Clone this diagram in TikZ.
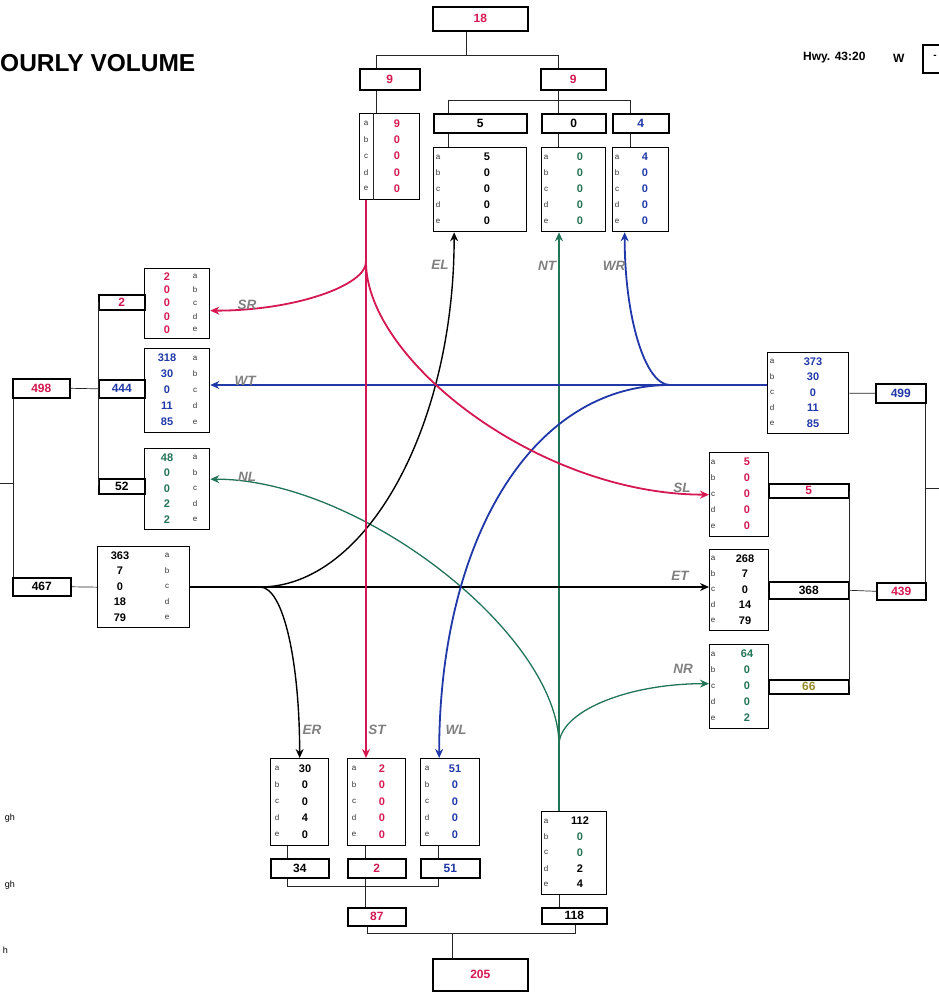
\documentclass[tikz,border=0pt]{standalone}
\usepackage{fontspec}
\setmainfont{Liberation Sans}
\usepackage{xcolor}
\usepackage{tikz}
\usetikzlibrary{arrows.meta}

\definecolor{cred}{RGB}{214,24,82}
\definecolor{cblue}{RGB}{32,56,168}
\definecolor{cgreen}{RGB}{34,116,86}
\definecolor{colive}{RGB}{150,140,40}

\begin{document}
\begin{tikzpicture}[
    x=1pt, y=-1pt,
    databox/.style={rectangle, draw=black, line width=1.3pt, inner sep=0pt, anchor=north west},
    sumbox/.style={rectangle, draw=black, line width=1.6pt, inner sep=0pt, anchor=north west, font=\bfseries\fontsize{12}{12}\selectfont},
    valtxt/.style={font=\bfseries\fontsize{11}{11}\selectfont, inner sep=0pt},
    lettxt/.style={font=\fontsize{8}{8}\selectfont, text=black!80, inner sep=0pt},
    mvlabel/.style={font=\bfseries\itshape\fontsize{13.5}{13.5}\selectfont, text=black!50, inner sep=0pt},
    conn/.style={draw=black!85, line width=0.7pt},
    mvred/.style={draw=cred, line width=1.8pt, -{Stealth[length=9pt,width=8pt]}},
    mvblue/.style={draw=cblue, line width=1.8pt, -{Stealth[length=9pt,width=8pt]}},
    mvblack/.style={draw=black, line width=1.4pt, -{Stealth[length=9pt,width=8pt]}},
    mvgreen/.style={draw=cgreen, line width=1.3pt, -{Stealth[length=9pt,width=8pt]}}
]
    \useasboundingbox (0,0) rectangle (939,993);
    \clip (0,0) rectangle (939,993);
    \fill[white] (0,0) rectangle (939,993);

    % heading
    \node[anchor=west, inner sep=0pt, font=\bfseries\fontsize{24.5}{24.5}\selectfont] (title) at (0,63) {OURLY VOLUME};
    \node[anchor=west, inner sep=0pt, font=\bfseries\fontsize{12}{12}\selectfont] (hwy) at (803,58) {Hwy. 43:20};
    \node[anchor=west, inner sep=0pt, font=\bfseries\fontsize{12}{12}\selectfont] (dir) at (893,58) {W};
    \node[sumbox, minimum width=30pt, minimum height=28pt] (dirbox) at (922,44) {};
    \node[inner sep=0pt, font=\bfseries\fontsize{10}{10}\selectfont] (dirmark) at (935,57) {-};

    % cut-off legend
    \node[anchor=east, inner sep=0pt, font=\fontsize{9}{9}\selectfont] (leg1) at (15,818) {gh};
    \node[anchor=east, inner sep=0pt, font=\fontsize{9}{9}\selectfont] (leg2) at (15,885) {gh};
    \node[anchor=east, inner sep=0pt, font=\fontsize{9}{9}\selectfont] (leg3) at (8,950) {h};

    % count boxes: name/left/top/width/height/letter x/value x/colour/values
    \foreach \nm/\lx/\ty/\w/\h/\lp/\vp/\col/\vals in {
        nIn/359/113/60/86/7/38/cred/{9,0,0,0,0},
        nEL/433/147/93/84/5/54/black/{5,0,0,0,0},
        nNT/541/147/64/84/5/39/cgreen/{0,0,0,0,0},
        nWR/612/147/56/84/5/33/cblue/{4,0,0,0,0},
        wSR/144/268/65/70/51/23/cred/{2,0,0,0,0},
        wWT/144/348/65/84/51/23/cblue/{318,30,0,11,85},
        wNL/144/448/65/81/51/23/cgreen/{48,0,0,2,2},
        wIn/97/546/92/81/70/23/black/{363,7,0,18,79},
        eIn/767/352/81/81/5/46/cblue/{373,30,0,11,85},
        eSL/709/452/59/84/4/38/cred/{5,0,0,0,0},
        eET/709/549/59/81/4/36/black/{268,7,0,14,79},
        eNR/709/644/59/84/4/38/cgreen/{64,0,0,0,2},
        sER/270/758/58/87/7/35/black/{30,0,0,4,0},
        sST/347/758/58/87/7/35/cred/{2,0,0,0,0},
        sWL/420/758/59/87/7/35/cblue/{51,0,0,0,0},
        sIn/541/811/65/83/5/39/black/{112,\color{cgreen}0,\color{cgreen}0,2,4}} {
        \node[databox, minimum width=\w pt, minimum height=\h pt] (\nm) at (\lx,\ty) {};
        \foreach \l [count=\i] in {a,b,c,d,e}
            \node[lettxt] (\nm l\i) at ({\lx+\lp}, {\ty+\h*(0.12+0.19*(\i-1))}) {\l};
        \foreach \v [count=\i] in \vals
            \node[valtxt, text=\col] (\nm v\i) at ({\lx+\vp}, {\ty+\h*(0.12+0.19*(\i-1))}) {\v};
    }
    \draw[conn] ([xshift=14pt]nIn.north west) -- ([xshift=14pt]nIn.south west);

    % total boxes: name/left/top/width/height/colour/text
    \foreach \nm/\lx/\ty/\w/\h/\col/\txt in {
        totN/432/6/95/24/cred/18, inNsum/359/68/60/21/cred/9, outNsum/540/68/65/21/cred/9,
        elSum/433/113/93/19/black/5, ntSum/541/113/64/19/black/0, wrSum/612/113/56/19/cblue/4,
        srSum/98/294/46/15/cred/2, wtSum/98/379/46/18/cblue/444, nlSum/98/478/46/15/black/52,
        outWsum/12/378/57/19/cred/498, inWsum/12/577/58/18/black/467,
        inEsum/875/383/50/19/cblue/499, outEsum/876/582/49/17/cred/439,
        slSum/768/483/80/14/cred/5, etSum/768/581/80/17/black/368, nrSum/768/679/80/14/colive/66,
        erSum/270/858/58/19/black/34, stSum/347/858/58/19/cred/2, wlSum/420/858/59/19/cblue/51,
        outSsum/347/907/58/18/cred/87, inSsum/541/907/65/16/black/118, totS/432/958/95/32/cred/205} {
        \node[sumbox, minimum width=\w pt, minimum height=\h pt, text=\col] (\nm) at (\lx,\ty) {\txt};
    }

    % tree lines, north
    \coordinate (nbM) at (466,55);
    \coordinate (nbL) at (376,55);
    \coordinate (nbR) at (558,55);
    \draw[conn] (totN.south -| nbM) -- (nbM);
    \draw[conn] (inNsum.north -| nbL) -- (nbL) -- (nbR) -- (outNsum.north -| nbR);
    \draw[conn] (inNsum.south -| nbL) -- (nIn.north -| nbL);
    \coordinate (ab1) at (448,100);
    \coordinate (ab2) at (558,100);
    \coordinate (ab3) at (630,100);
    \draw[conn] (outNsum.south -| ab2) -- (ntSum.north -| ab2);
    \draw[conn] (elSum.north -| ab1) -- (ab1) -- (ab3) -- (wrSum.north -| ab3);
    \draw[conn] (elSum.south -| ab1) -- (nEL.north -| ab1);
    \draw[conn] (ntSum.south -| ab2) -- (nNT.north -| ab2);
    \draw[conn] (wrSum.south -| ab3) -- (nWR.north -| ab3);

    % tree lines, west
    \coordinate (wtick) at (0,483);
    \draw[conn] (srSum.west) -- (nlSum.west);
    \draw[conn] (outWsum.east) -- (wtSum.west);
    \draw[conn] ([xshift=1pt]outWsum.south west) -- ([xshift=1pt]inWsum.north west);
    \draw[conn] (wtick) -- ([xshift=1pt]outWsum.south west |- wtick);
    \draw[conn] (inWsum.east) -- (wIn.west);

    % tree lines, east
    \coordinate (etick) at (939,488);
    \draw[conn] (eIn.east) -- (inEsum.west);
    \draw[conn] ([xshift=-1pt]inEsum.south east) -- ([xshift=-1pt]outEsum.north east);
    \draw[conn] ([xshift=-1pt]inEsum.south east |- etick) -- (etick);
    \draw[conn] (slSum.east) -- (nrSum.east);
    \draw[conn] (etSum.east) -- (outEsum.west);

    % tree lines, south
    \coordinate (sb1) at (287,886);
    \coordinate (sb2) at (365,886);
    \coordinate (sb3) at (438,886);
    \draw[conn] (sER.south -| sb1) -- (erSum.north -| sb1);
    \draw[conn] (sST.south -| sb2) -- (stSum.north -| sb2);
    \draw[conn] (sWL.south -| sb3) -- (wlSum.north -| sb3);
    \draw[conn] (erSum.south -| sb1) -- (sb1) -- (sb3) -- (wlSum.south -| sb3);
    \draw[conn] (stSum.south -| sb2) -- (outSsum.north -| sb2);
    \coordinate (tb1) at (367,933);
    \coordinate (tb2) at (575,933);
    \coordinate (tb3) at (452,933);
    \draw[conn] (outSsum.south -| tb1) -- (tb1) -- (tb2) -- (inSsum.south -| tb2);
    \draw[conn] (tb3) -- (totS.north -| tb3);

    % movements
    \coordinate (redsplit) at (366,262);
    \coordinate (bluesplit) at (670,385);
    \coordinate (blacksplit) at (260,587);
    \coordinate (greensplit) at (559,745);

    \draw[conn] (sIn.south -| greensplit) -- (inSsum.north -| greensplit);
    \draw[mvgreen] (sIn.north -| greensplit) -- (nNT.south -| greensplit);
    \draw[mvgreen] (greensplit) .. controls +(0,-110) and +(150,0) .. ([yshift=10pt]wNL.east);
    \draw[mvgreen] (greensplit) .. controls +(0,-33) and +(-83,0) .. ([yshift=3pt]eNR.west);

    \draw[mvblack] (wIn.east |- blacksplit) -- (eET.west |- blacksplit);
    \draw[mvblack] (blacksplit) .. controls +(106,0) and +(0,195) .. ([xshift=-26pt]nEL.south);
    \draw[mvblack] (blacksplit) .. controls +(24,0) and +(0,-94) .. (sER.north);

    \draw[mvblue] (eIn.west |- bluesplit) -- (wWT.east |- bluesplit);
    \draw[mvblue] (bluesplit) .. controls +(-25,0) and +(0,85) .. ([xshift=-16pt]nWR.south);
    \draw[mvblue] (bluesplit) .. controls +(-140,0) and +(0,-215) .. ([xshift=-11pt]sWL.north);

    \draw[mvred] (nIn.south -| redsplit) -- (sST.north -| redsplit);
    \draw[mvred] (redsplit) .. controls +(0,23) and +(86,0) .. ([yshift=-7pt]wSR.east);
    \draw[mvred] (redsplit) .. controls +(0,98) and +(-170,0) .. (eSL.west);

    % movement names
    \foreach \nm/\px/\py/\txt in {labSR/247/305/SR, labWT/245/381/WT, labNL/247/477/NL,
        labEL/440/265/EL, labNT/547/266/NT, labWR/614/266/WR,
        labSL/682/488/SL, labET/680/576/ET, labNR/683/669/NR,
        labER/312/730/ER, labST/377/730/ST, labWL/456/730/WL}
        \node[mvlabel] (\nm) at (\px,\py) {\txt};
\end{tikzpicture}
\end{document}
